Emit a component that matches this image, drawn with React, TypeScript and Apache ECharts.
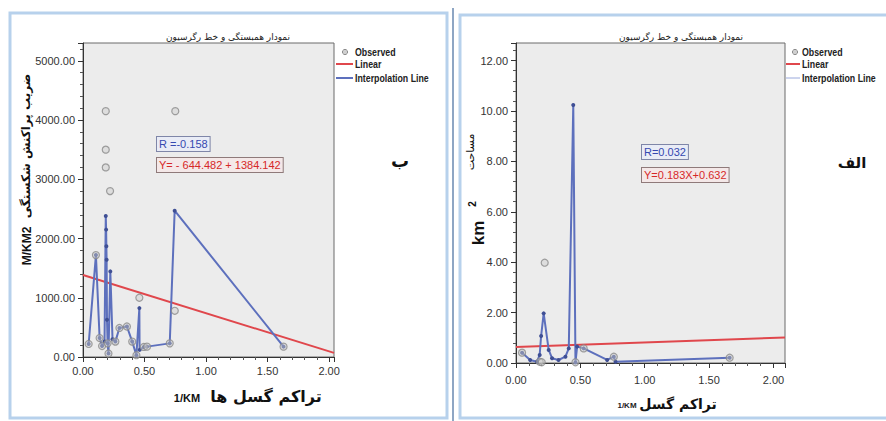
import React, { useEffect, useRef } from "react";
import * as echarts from "echarts";

// ---------- text ----------
const CHART_TITLE = "نمودار همبستگی و خط رگرسیون";
const LEGEND_LABELS = ["Observed", "Linear", "Interpolation Line"];
const LEFT_PANEL_TAG = "ب";
const RIGHT_PANEL_TAG = "الف";
const LEFT_Y_NAME_FA = "ضریب پراکنش شکستگی";
const LEFT_Y_UNIT = "M/KM2";
const LEFT_X_NAME_FA = "تراکم گسل ها";
const RIGHT_Y_NAME_FA = "مساحت";
const RIGHT_X_NAME_FA = "تراکم گسل";
const X_UNIT = "1/KM";
const LEFT_R_TEXT = "R =-0.158";
const LEFT_EQ_TEXT = "Y= - 644.482 + 1384.142";
const RIGHT_R_TEXT = "R=0.032";
const RIGHT_EQ_TEXT = "Y=0.183X+0.632";

// ---------- left panel (ب) data ----------
const leftObserved: [number, number][] = [
  [0.046, 220], [0.105, 1720], [0.135, 320], [0.155, 185], [0.185, 4150],
  [0.185, 3500], [0.185, 3200], [0.22, 2800], [0.207, 60], [0.2, 230],
  [0.263, 260], [0.296, 490], [0.357, 515], [0.4, 260], [0.434, 30],
  [0.458, 1000], [0.494, 170], [0.52, 175], [0.705, 230], [0.75, 4150],
  [0.746, 780], [1.63, 175],
];
const leftInterp: [number, number][] = [
  [0.046, 220], [0.105, 1720], [0.135, 320], [0.155, 185], [0.175, 260],
  [0.185, 2380], [0.188, 2150], [0.19, 1870], [0.192, 1640], [0.195, 630],
  [0.2, 230], [0.207, 60], [0.222, 1445], [0.24, 300], [0.263, 260],
  [0.296, 490], [0.357, 515], [0.4, 260], [0.434, 30], [0.458, 825],
  [0.46, 120], [0.494, 170], [0.52, 175], [0.705, 230], [0.745, 2470],
  [1.63, 175],
];
const leftLinear: [number, number][] = [[0, 1384.1], [2.04, 69.4]];

// ---------- right panel (الف) data ----------
const rightObserved: [number, number][] = [
  [0.047, 0.41], [0.223, 3.98], [0.184, 0.05], [0.2, 0.03], [0.462, 0.03],
  [0.526, 0.58], [0.76, 0.25], [1.66, 0.21],
];
const rightInterp: [number, number][] = [
  [0.047, 0.41], [0.11, 0.12], [0.163, 0.05], [0.184, 0.32], [0.195, 1.07],
  [0.215, 1.97], [0.254, 0.52], [0.28, 0.19], [0.33, 0.12], [0.384, 0.25],
  [0.41, 0.58], [0.445, 10.24], [0.462, 0.02], [0.475, 0.65], [0.526, 0.58],
  [0.708, 0.12], [0.76, 0.25], [0.773, 0.05], [1.66, 0.21],
];
const rightLinear: [number, number][] = [[0, 0.632], [2.09, 1.014]];

// ---------- axis ranges ----------
const LEFT_X_MAX = 2.04;
const LEFT_Y_MAX = 5300;
const RIGHT_X_MAX = 2.09;
const RIGHT_Y_MAX = 12.7;

const LATIN = '"Liberation Sans", Arial, sans-serif';
const ARABIC = '"DejaVu Sans", "Noto Sans", sans-serif';

const RED = "#e0474c";
const BLUE = "#5d70bd";
const DOT = "#3f4f94";

function axisCommon(labelMargin: number) {
  return {
    type: "value" as const,
    splitLine: { show: false },
    axisLine: { show: true, onZero: false, lineStyle: { color: "#333", width: 1 } },
    axisTick: { show: true, inside: false, length: 5, lineStyle: { color: "#333" } },
    minorTick: { show: true, splitNumber: 5, length: 3, lineStyle: { color: "#555" } },
    axisLabel: {
      color: "#333",
      fontSize: 11,
      fontFamily: LATIN,
      margin: labelMargin,
      showMaxLabel: false,
      formatter: (v: number) => v.toFixed(2),
    },
  };
}

function legendGraphic(lineX1: number, lineX2: number, circleX: number, textX: number, thinBlue: boolean) {
  const font = `bold 11px ${LATIN}`;
  const txt = (y: number, text: string) => ({
    type: "text", x: textX, y, scaleX: 0.8,
    style: { text, font, fill: "#222", verticalAlign: "middle" },
  });
  return [
    { type: "circle", shape: { cx: circleX, cy: 52, r: 2.6 }, style: { fill: "#d0d0d0", stroke: "#8c8c8c", lineWidth: 1 } },
    txt(52, LEGEND_LABELS[0]),
    { type: "line", shape: { x1: lineX1, y1: 64, x2: lineX2, y2: 64 }, style: { stroke: RED, lineWidth: 2 } },
    txt(64, LEGEND_LABELS[1]),
    { type: "line", shape: { x1: lineX1, y1: 78, x2: lineX2, y2: 78 }, style: { stroke: thinBlue ? "#9aa9dc" : BLUE, lineWidth: thinBlue ? 1 : 2 } },
    txt(78, LEGEND_LABELS[2]),
  ];
}

function boxText(x: number, y: number, text: string, color: string, bg: string, border: string) {
  return {
    type: "text",
    x,
    y,
    style: {
      text,
      font: `11px ${LATIN}`,
      fill: color,
      verticalAlign: "middle",
      backgroundColor: bg,
      borderColor: border,
      borderWidth: 1,
      padding: [2, 2, 1, 2],
    },
  };
}

export default function App() {
  const ref = useRef<HTMLDivElement>(null);

  useEffect(() => {
    if (!ref.current) return;
    const chart = echarts.init(ref.current, undefined, { renderer: "svg" });

    const graphic: any[] = [
      // panel frames
      { type: "rect", shape: { x: 10, y: 13, width: 437, height: 405 }, style: { fill: "none", stroke: "#b7d1ec", lineWidth: 3 } },
      { type: "line", shape: { x1: 453, y1: 8, x2: 453, y2: 421 }, style: { stroke: "#8ea6c4", lineWidth: 2 } },
      { type: "rect", shape: { x: 460, y: 15, width: 440, height: 403 }, style: { fill: "none", stroke: "#b7d1ec", lineWidth: 3 } },
      // titles
      { type: "text", x: 228, y: 37, style: { text: CHART_TITLE, font: `9px ${ARABIC}`, fill: "#222", align: "center", verticalAlign: "middle" } },
      { type: "text", x: 681, y: 37, style: { text: CHART_TITLE, font: `9px ${ARABIC}`, fill: "#222", align: "center", verticalAlign: "middle" } },
      // legends
      ...legendGraphic(336, 353, 345, 355, false),
      ...legendGraphic(786, 800, 795, 802, true),
      // panel tags
      { type: "text", x: 400, y: 160, style: { text: LEFT_PANEL_TAG, font: `bold 18px ${ARABIC}`, fill: "#111", align: "center", verticalAlign: "middle" } },
      { type: "text", x: 852, y: 163, style: { text: RIGHT_PANEL_TAG, font: `bold 15px ${ARABIC}`, fill: "#111", align: "center", verticalAlign: "middle" } },
      // left y-axis name
      { type: "text", x: 26, y: 146, rotation: Math.PI / 2, style: { text: LEFT_Y_NAME_FA, font: `bold 12px ${ARABIC}`, fill: "#111", align: "center", verticalAlign: "middle" } },
      { type: "text", x: 27, y: 246, rotation: Math.PI / 2, style: { text: LEFT_Y_UNIT, font: `bold 12px ${LATIN}`, fill: "#111", align: "center", verticalAlign: "middle" } },
      // left x-axis name
      { type: "text", x: 187, y: 398, style: { text: X_UNIT, font: `bold 11px ${LATIN}`, fill: "#111", align: "center", verticalAlign: "middle" } },
      { type: "text", x: 266, y: 396, style: { text: LEFT_X_NAME_FA, font: `bold 16px ${ARABIC}`, fill: "#111", align: "center", verticalAlign: "middle" } },
      // right y-axis name
      { type: "text", x: 470, y: 152, rotation: Math.PI / 2, style: { text: RIGHT_Y_NAME_FA, font: `11px ${ARABIC}`, fill: "#111", align: "center", verticalAlign: "middle" } },
      { type: "text", x: 478, y: 233, rotation: Math.PI / 2, style: { text: "km", font: `bold 17px ${LATIN}`, fill: "#111", align: "center", verticalAlign: "middle" } },
      { type: "text", x: 472, y: 204, rotation: Math.PI / 2, style: { text: "2", font: `bold 10px ${LATIN}`, fill: "#111", align: "center", verticalAlign: "middle" } },
      // right x-axis name
      { type: "text", x: 627, y: 405, style: { text: X_UNIT, font: `bold 8px ${LATIN}`, fill: "#222", align: "center", verticalAlign: "middle" } },
      { type: "text", x: 678, y: 404, style: { text: RIGHT_X_NAME_FA, font: `bold 14px ${ARABIC}`, fill: "#111", align: "center", verticalAlign: "middle" } },
      // R / equation boxes
      boxText(157, 144, LEFT_R_TEXT, "#3548b0", "#e9ecf6", "#7f86a8"),
      boxText(157, 165, LEFT_EQ_TEXT, "#d62828", "#f4e8e8", "#8f7a7a"),
      boxText(642, 152, RIGHT_R_TEXT, "#3548b0", "#e9ecf6", "#7f86a8"),
      boxText(642, 175, RIGHT_EQ_TEXT, "#d62828", "#f4e8e8", "#8f7a7a"),
    ];

    const option: any = {
      animation: false,
      backgroundColor: "#ffffff",
      grid: [
        { left: 83, top: 43, width: 251, height: 314, show: true, backgroundColor: "#ececec", borderColor: "#6a6a6a", borderWidth: 1 },
        { left: 516, top: 43, width: 269, height: 320, show: true, backgroundColor: "#ececec", borderColor: "#6a6a6a", borderWidth: 1 },
      ],
      xAxis: [
        { ...axisCommon(8), gridIndex: 0, min: 0, max: LEFT_X_MAX, interval: 0.5 },
        { ...axisCommon(11), gridIndex: 1, min: 0, max: RIGHT_X_MAX, interval: 0.5 },
      ],
      yAxis: [
        { ...axisCommon(8), gridIndex: 0, min: 0, max: LEFT_Y_MAX, interval: 1000 },
        { ...axisCommon(8), gridIndex: 1, min: 0, max: RIGHT_Y_MAX, interval: 2 },
      ],
      series: [
        {
          name: LEGEND_LABELS[1], type: "line", xAxisIndex: 0, yAxisIndex: 0, data: leftLinear,
          showSymbol: false, lineStyle: { color: RED, width: 2 }, z: 2,
        },
        {
          name: LEGEND_LABELS[2], type: "line", xAxisIndex: 0, yAxisIndex: 0, data: leftInterp,
          symbol: "circle", symbolSize: 4, showAllSymbol: true, itemStyle: { color: DOT },
          lineStyle: { color: BLUE, width: 2 }, z: 3,
        },
        {
          name: LEGEND_LABELS[0], type: "scatter", xAxisIndex: 0, yAxisIndex: 0, data: leftObserved,
          symbol: "circle", symbolSize: 7, itemStyle: { color: "rgba(205,205,205,0.6)", borderColor: "#8a8a8a", borderWidth: 1.2 }, z: 4,
        },
        {
          name: LEGEND_LABELS[1], type: "line", xAxisIndex: 1, yAxisIndex: 1, data: rightLinear,
          showSymbol: false, lineStyle: { color: RED, width: 2 }, z: 2,
        },
        {
          name: LEGEND_LABELS[2], type: "line", xAxisIndex: 1, yAxisIndex: 1, data: rightInterp,
          symbol: "circle", symbolSize: 4, showAllSymbol: true, itemStyle: { color: DOT },
          lineStyle: { color: BLUE, width: 2 }, z: 3,
        },
        {
          name: LEGEND_LABELS[0], type: "scatter", xAxisIndex: 1, yAxisIndex: 1, data: rightObserved,
          symbol: "circle", symbolSize: 7, itemStyle: { color: "rgba(205,205,205,0.6)", borderColor: "#8a8a8a", borderWidth: 1.2 }, z: 4,
        },
      ],
      graphic,
    };

    chart.setOption(option);
    return () => chart.dispose();
  }, []);

  return (
    <div
      ref={ref}
      style={{ position: "absolute", left: 0, top: 0, width: 886, height: 421, background: "#fff" }}
    />
  );
}
